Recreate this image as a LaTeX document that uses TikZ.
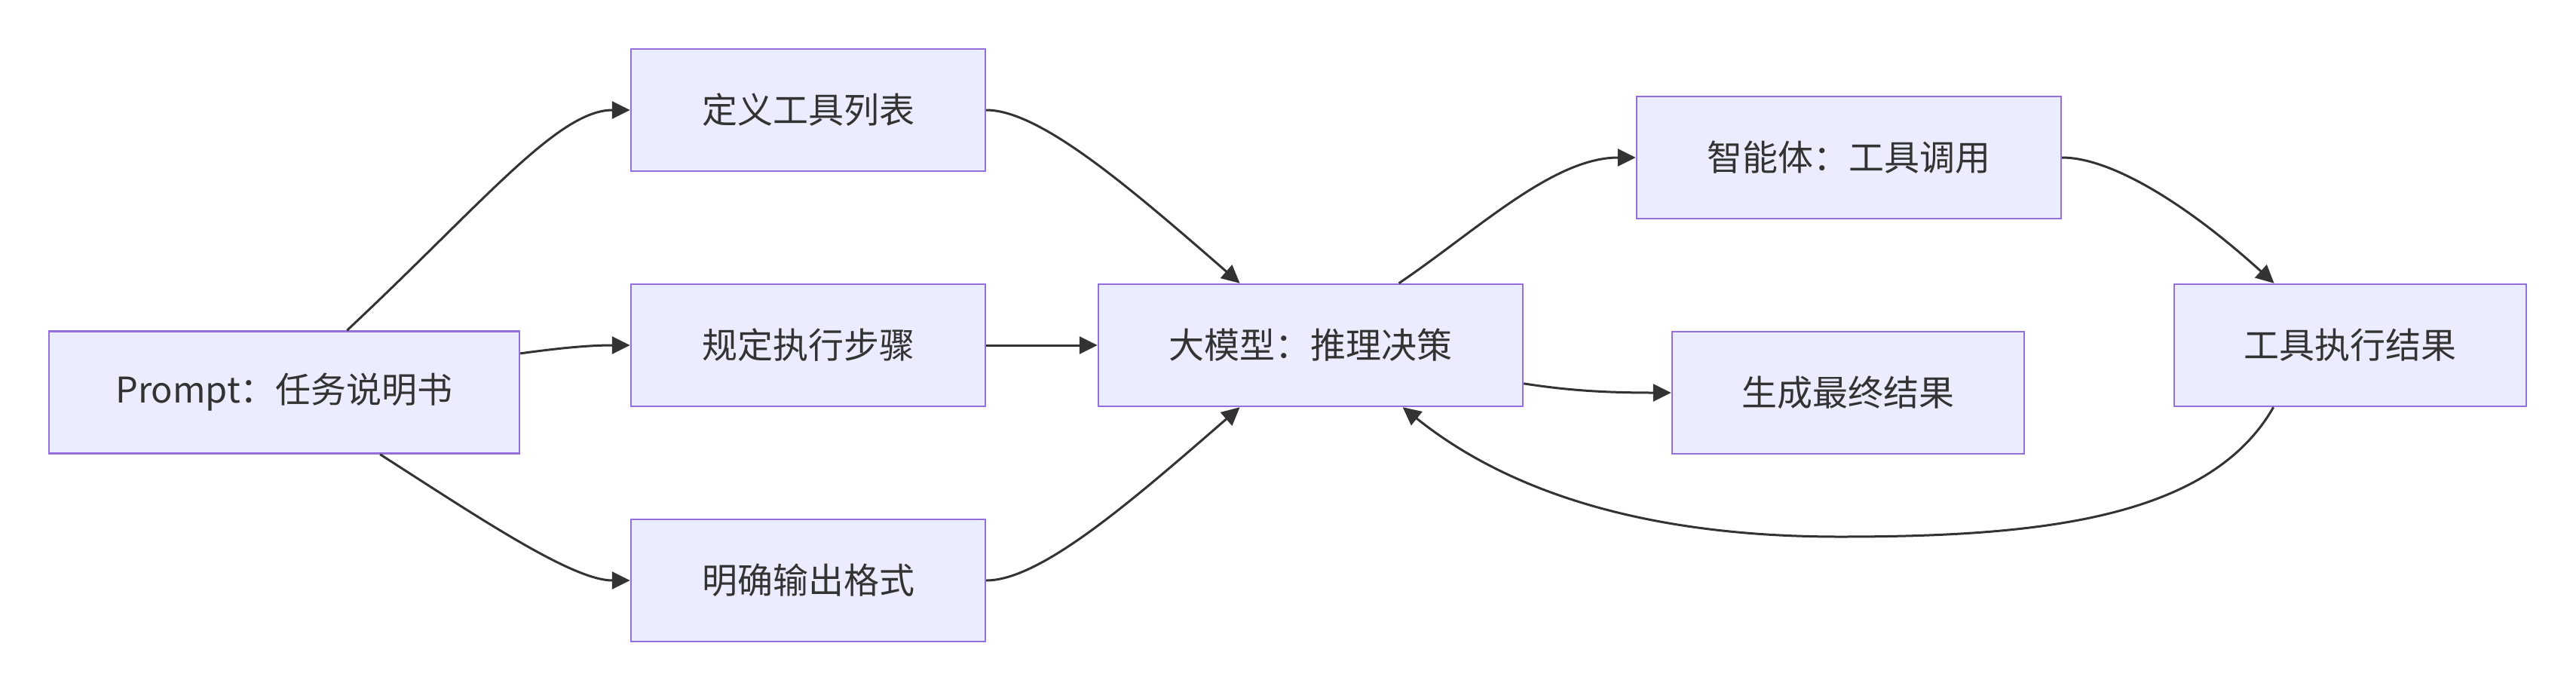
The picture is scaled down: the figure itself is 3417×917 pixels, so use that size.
\documentclass[tikz,border=0pt]{standalone}
\usepackage{fontspec}
\setmainfont{Noto Sans CJK SC}
\usetikzlibrary{arrows.meta,calc}
\definecolor{nodefill}{HTML}{ECECFF}
\definecolor{nodeline}{HTML}{9370DB}
\definecolor{ink}{HTML}{333333}
\begin{document}
\begin{tikzpicture}[x=0.5pt,y=-0.5pt,
  box/.style={draw=nodeline,fill=nodefill,line width=1.2pt,rectangle,inner sep=0pt,
    minimum height=81pt,text=ink,font=\fontsize{23.5}{28}\selectfont},
  link/.style={draw=ink,line width=1.5pt,-{Triangle[length=12pt,width=11.5pt]}}]
\useasboundingbox (0,0) rectangle (3417,917);
\fill[white] (0,0) rectangle (3417,917);
\node[box,minimum width=312pt] (P) at (377,520.5) {Prompt：任务说明书};
\node[box,minimum width=235pt] (A) at (1072,146) {定义工具列表};
\node[box,minimum width=235pt] (B) at (1072,458) {规定执行步骤};
\node[box,minimum width=235pt] (C) at (1072,770) {明确输出格式};
\node[box,minimum width=281.5pt] (M) at (1738.5,458) {大模型：推理决策};
\node[box,minimum width=281.5pt] (G) at (2452.5,209) {智能体：工具调用};
\node[box,minimum width=233.5pt] (F) at (2451.5,521) {生成最终结果};
\node[box,minimum width=233.5pt] (T) at (3117.5,458) {工具执行结果};
% Prompt -> three
\draw[link] ($(P.north west)!0.633!(P.north east)$) .. controls (640,270) and (740,146) .. (A.west);
\draw[link] ($(P.north east)!0.186!(P.south east)$) .. controls (740,462) and (780,458) .. (B.west);
\draw[link] ($(P.south west)!0.703!(P.south east)$) .. controls (640,690) and (760,770) .. (C.west);
% three -> M
\draw[link] (A.east) .. controls (1380,146) and (1500,250) .. ($(M.north west)!0.334!(M.north east)$);
\draw[link] (B.east) -- (M.west);
\draw[link] (C.east) .. controls (1380,770) and (1500,666) .. ($(M.south west)!0.334!(M.south east)$);
% M -> G, F
\draw[link] ($(M.north west)!0.707!(M.north east)$) .. controls (1960,305) and (2060,209) .. (G.west);
\draw[link] ($(M.north east)!0.809!(M.south east)$) .. controls (2080,518) and (2130,521) .. (F.west);
% G -> T
\draw[link] (G.east) .. controls (2800,209) and (2900,270) .. ($(T.north west)!0.285!(T.north east)$);
% T -> M loop
\coordinate (L) at (2440,712);
\draw[link] ($(T.south west)!0.283!(T.south east)$) .. controls (2930,690) and (2700,712) .. (L)
  .. controls (2200,712) and (2010,660) .. ($(M.south west)!0.716!(M.south east)$);
\end{tikzpicture}
\end{document}
